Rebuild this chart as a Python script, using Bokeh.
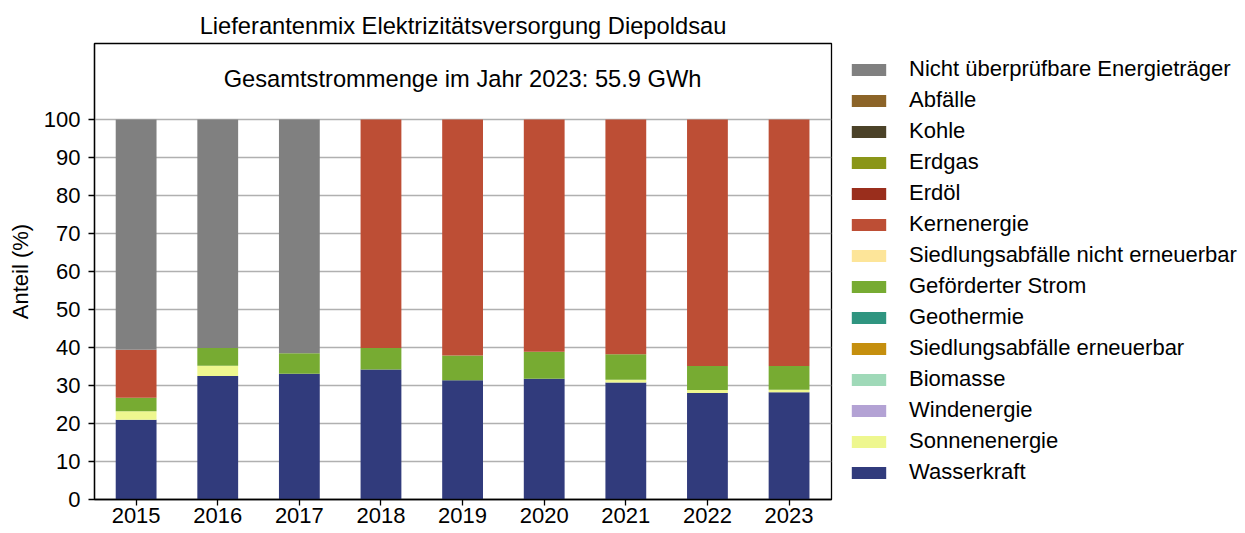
from bokeh.plotting import figure
from bokeh.models import Legend, LegendItem, Label, FixedTicker
from bokeh.embed import file_html
from bokeh.resources import INLINE

years = [2015, 2016, 2017, 2018, 2019, 2020, 2021, 2022, 2023]

wasserkraft = [21.0, 32.5, 33.1, 34.2, 31.4, 31.8, 30.8, 28.0, 28.2]
sonnenenergie = [2.2, 2.7, 0.0, 0.0, 0.0, 0.0, 0.7, 0.8, 0.7]
windenergie = [0.0] * 9
biomasse = [0.0] * 9
siedl_erneuerbar = [0.0] * 9
geothermie = [0.0] * 9
gefoerdert = [3.6, 4.7, 5.4, 5.7, 6.5, 7.1, 6.7, 6.3, 6.2]
siedl_nicht_erneuerbar = [0.0] * 9
kernenergie = [12.6, 0.0, 0.0, 60.1, 62.1, 61.1, 61.8, 64.9, 64.9]
erdoel = [0.0] * 9
erdgas = [0.0] * 9
kohle = [0.0] * 9
abfaelle = [0.0] * 9
nicht_ueberpruefbar = [60.6, 60.1, 61.5, 0.0, 0.0, 0.0, 0.0, 0.0, 0.0]

series_names = [
    "Wasserkraft", "Sonnenenergie", "Windenergie", "Biomasse",
    "Siedlungsabfälle erneuerbar", "Geothermie", "Geförderter Strom",
    "Siedlungsabfälle nicht erneuerbar", "Kernenergie", "Erdöl", "Erdgas",
    "Kohle", "Abfälle", "Nicht überprüfbare Energieträger",
]
series_values = [
    wasserkraft, sonnenenergie, windenergie, biomasse, siedl_erneuerbar,
    geothermie, gefoerdert, siedl_nicht_erneuerbar, kernenergie, erdoel,
    erdgas, kohle, abfaelle, nicht_ueberpruefbar,
]
colors = [
    "#313b7c", "#eef78f", "#b3a2d4", "#9fd9b8", "#c58f0e", "#2f9580",
    "#77ab32", "#fde599", "#bd4e35", "#9a2e1c", "#8a9618", "#4b4228",
    "#8c6428", "#808080",
]
title_text = "Lieferantenmix Elektrizitätsversorgung Diepoldsau"
note_text = "Gesamtstrommenge im Jahr 2023: 55.9 GWh"
y_ticks = [0, 10, 20, 30, 40, 50, 60, 70, 80, 90, 100]

FONT = "Liberation Sans"

data = {"year": years}
keys = []
for i, vals in enumerate(series_values):
    k = f"s{i}"
    keys.append(k)
    data[k] = vals

p = figure(frame_width=737, frame_height=456,
           x_range=(2014.49, 2023.52), y_range=(0, 120),
           output_backend="svg", toolbar_location=None,
           min_border_left=94, min_border_right=408, min_border_top=43,
           min_border_bottom=34)

renderers = p.vbar_stack(keys, x="year", width=0.5, color=colors,
                         line_color=None, source=data)

p.title.text = title_text
p.title.align = "center"
p.title.text_font = FONT
p.title.text_font_size = "23.7px"
p.title.text_font_style = "normal"
p.title.text_color = "#000000"
p.title.offset = 0
p.title.standoff = 9

p.add_layout(Label(x=2019, y=110.7, text=note_text, text_align="center",
                   text_baseline="middle", text_font=FONT,
                   text_font_size="23.7px", text_color="#000000"))

p.xgrid.grid_line_color = None
p.ygrid.grid_line_color = "#b0b0b0"
p.ygrid.grid_line_width = 1.5
p.ygrid.ticker = FixedTicker(ticks=y_ticks)

p.xaxis.ticker = FixedTicker(ticks=years)
p.yaxis.ticker = FixedTicker(ticks=y_ticks)
for ax in (p.xaxis, p.yaxis):
    ax.axis_line_color = "#000000"
    ax.axis_line_width = 1.3
    ax.major_tick_line_color = "#000000"
    ax.major_tick_line_width = 1.3
    ax.major_tick_out = 6
    ax.major_tick_in = 0
    ax.minor_tick_line_color = None
    ax.major_label_text_font = FONT
    ax.major_label_text_font_size = "22px"
    ax.major_label_text_color = "#000000"
p.xaxis.major_label_standoff = 2
p.yaxis.major_label_standoff = 8
p.yaxis.axis_label = "Anteil (%)"
p.yaxis.axis_label_text_font = FONT
p.yaxis.axis_label_text_font_size = "22px"
p.yaxis.axis_label_text_font_style = "normal"
p.yaxis.axis_label_text_color = "#000000"
p.yaxis.axis_label_standoff = 8

p.outline_line_color = "#000000"
p.outline_line_width = 1.3
p.outline_line_alpha = 1

items = [LegendItem(label=series_names[i], renderers=[renderers[i]])
         for i in range(len(series_names) - 1, -1, -1)]
legend = Legend(items=items, location=(16, 14), orientation="vertical")
legend.border_line_color = None
legend.background_fill_alpha = 0
legend.margin = 0
legend.padding = 0
legend.glyph_width = 43
legend.glyph_height = 15
legend.label_height = 25
legend.label_standoff = 19
legend.spacing = 5
legend.label_text_font = FONT
legend.label_text_font_size = "22px"
legend.label_text_color = "#000000"
legend.label_text_baseline = "middle"
p.add_layout(legend, "right")

open("out.html", "w").write(file_html(p, INLINE))
